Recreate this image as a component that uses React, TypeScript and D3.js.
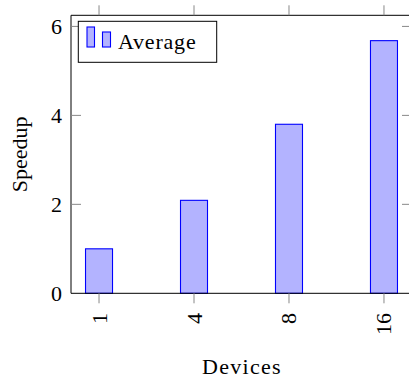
import React, { useEffect, useRef } from 'react';
import * as d3 from 'd3';

const devices = ['1', '4', '8', '16'];
const speedup = [1.0, 2.09, 3.8, 5.68];
const yTicks = [0, 2, 4, 6];
const seriesName = 'Average';

const W = 409;
const H = 379;

export default function App() {
  const ref = useRef<SVGSVGElement>(null);

  useEffect(() => {
    const svg = d3.select(ref.current);
    svg.selectAll('*').remove();

    const left = 71,
      right = 412,
      top = 15.3,
      bottom = 293.3;
    const font = "'Liberation Serif', 'DejaVu Serif'";

    const x = d3.scalePoint<string>().domain(devices).range([left, right]).padding(0.295);
    const y = d3.scaleLinear().domain([0, 6.25]).range([bottom, top]);
    const barW = 27;

    // bars
    svg
      .selectAll('.bar')
      .data(devices)
      .enter()
      .append('rect')
      .attr('class', 'bar')
      .attr('x', (d) => (x(d) as number) - barW / 2)
      .attr('y', (d, i) => y(speedup[i]))
      .attr('width', barW)
      .attr('height', (d, i) => bottom - y(speedup[i]))
      .attr('fill', '#b3b3ff')
      .attr('stroke', '#0000ff')
      .attr('stroke-width', 1.1);

    // axis frame
    const frame = svg.append('g').attr('stroke', '#000').attr('stroke-width', 1).attr('fill', 'none');
    frame.append('line').attr('x1', left).attr('x2', right).attr('y1', top).attr('y2', top);
    frame.append('line').attr('x1', left).attr('x2', right).attr('y1', bottom).attr('y2', bottom);
    frame.append('line').attr('x1', left).attr('x2', left).attr('y1', top).attr('y2', bottom);
    frame.append('line').attr('x1', right).attr('x2', right).attr('y1', top).attr('y2', bottom);

    const ticks = svg.append('g').attr('stroke', '#888').attr('stroke-width', 1);
    devices.forEach((d) => {
      const px = x(d) as number;
      ticks.append('line').attr('x1', px).attr('x2', px).attr('y1', top - 10).attr('y2', top);
      ticks.append('line').attr('x1', px).attr('x2', px).attr('y1', bottom).attr('y2', bottom + 10);
    });
    yTicks.forEach((t) => {
      if (t === 0) return;
      ticks.append('line').attr('x1', left).attr('x2', left + 10).attr('y1', y(t)).attr('y2', y(t));
      ticks.append('line').attr('x1', right - 10).attr('x2', right).attr('y1', y(t)).attr('y2', y(t));
    });

    // tick labels
    svg
      .selectAll('.ylab')
      .data(yTicks)
      .enter()
      .append('text')
      .attr('class', 'ylab')
      .attr('x', 62)
      .attr('y', (d) => y(d) + 7.5)
      .attr('text-anchor', 'end')
      .style('font-family', font)
      .attr('font-size', 22)
      .text((d) => d);

    svg
      .selectAll('.xlab')
      .data(devices)
      .enter()
      .append('text')
      .attr('class', 'xlab')
      .attr('transform', (d) => 'translate(' + ((x(d) as number) + 7.5) + ',' + 313 + ') rotate(-90)')
      .attr('text-anchor', 'end')
      .style('font-family', font)
      .attr('font-size', 22)
      .text((d) => d);

    // axis titles
    svg
      .append('text')
      .attr('x', 242)
      .attr('y', 374)
      .attr('text-anchor', 'middle')
      .style('font-family', font)
      .attr('font-size', 22)
      .attr('letter-spacing', 1.3)
      .text('Devices');

    svg
      .append('text')
      .attr('transform', 'translate(27,' + (top + bottom) / 2 + ') rotate(-90)')
      .attr('text-anchor', 'middle')
      .style('font-family', font)
      .attr('font-size', 22)
      .text('Speedup');

    // legend
    const lg = svg.append('g');
    lg.append('rect')
      .attr('x', 78.3)
      .attr('y', 21.3)
      .attr('width', 138.4)
      .attr('height', 41)
      .attr('fill', '#fff')
      .attr('stroke', '#000')
      .attr('stroke-width', 1);
    lg.append('rect')
      .attr('x', 87)
      .attr('y', 27)
      .attr('width', 7.5)
      .attr('height', 20)
      .attr('fill', '#b3b3ff')
      .attr('stroke', '#0000ff')
      .attr('stroke-width', 1.1);
    lg.append('rect')
      .attr('x', 102.5)
      .attr('y', 32)
      .attr('width', 8)
      .attr('height', 15)
      .attr('fill', '#b3b3ff')
      .attr('stroke', '#0000ff')
      .attr('stroke-width', 1.1);
    lg.append('text')
      .attr('x', 118)
      .attr('y', 48.5)
      .style('font-family', font)
      .attr('font-size', 22)
      .attr('letter-spacing', 0.8)
      .text(seriesName);
  }, []);

  return (
    <svg
      ref={ref}
      width={W}
      height={H}
      viewBox={'0 0 ' + W + ' ' + H}
      style={{ position: 'absolute', left: 0, top: 0, background: '#fff' }}
    />
  );
}
